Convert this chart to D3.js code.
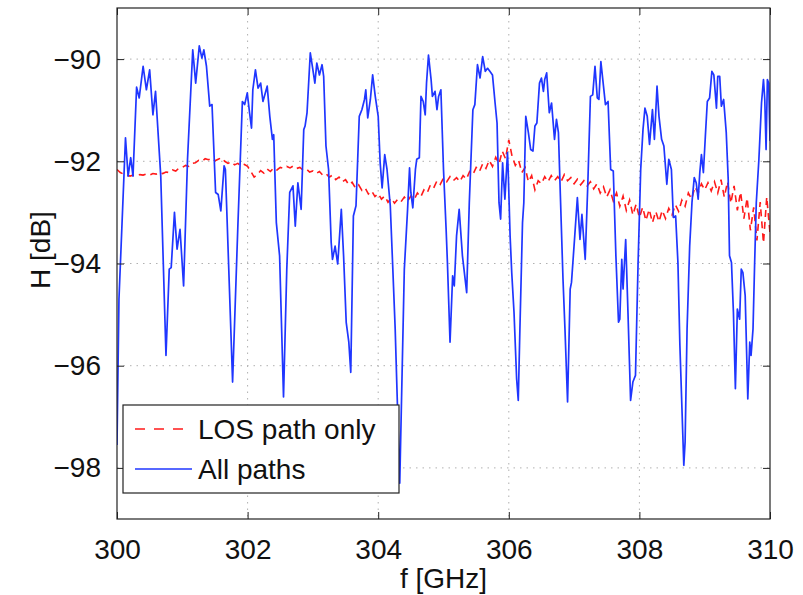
<!DOCTYPE html>
<html>
<head>
<meta charset="utf-8">
<script src="https://cdn.jsdelivr.net/npm/d3@7"></script>
<style>
  body { margin: 0; background: #fff; }
  text { font-family: "Liberation Sans", Arial, Helvetica, sans-serif; }
</style>
</head>
<body>
<div id="chart"></div>
<script>
// frequency ticks and level ticks
var xTicks = [300, 302, 304, 306, 308, 310];
var yTicks = [-98, -96, -94, -92, -90];

// "All paths" trace
var allF = [300.00, 300.03, 300.13, 300.17, 300.21, 300.245, 300.30, 300.34, 300.40, 300.45,
  300.50, 300.55, 300.59, 300.67, 300.75, 300.80, 300.83, 300.88, 300.92, 300.965,
  301.02, 301.08, 301.16, 301.205, 301.26, 301.30, 301.33, 301.37, 301.42, 301.455,
  301.51, 301.55, 301.59, 301.64, 301.66, 301.77, 301.85, 301.92, 301.955, 301.995,
  302.03, 302.06, 302.08, 302.12, 302.16, 302.20, 302.235, 302.30, 302.34, 302.38,
  302.40, 302.44, 302.49, 302.55, 302.60, 302.645, 302.695, 302.73, 302.77, 302.82,
  302.86, 302.88, 302.91, 302.96, 303.00, 303.03, 303.06, 303.10, 303.14, 303.165,
  303.20, 303.24, 303.28, 303.30, 303.34, 303.38, 303.435, 303.47, 303.51, 303.55,
  303.58, 303.62, 303.66, 303.71, 303.75, 303.79, 303.81, 303.84, 303.88, 303.915,
  303.955, 304.00, 304.03, 304.06, 304.10, 304.135, 304.185, 304.22, 304.26, 304.29,
  304.33, 304.40, 304.45, 304.48, 304.50, 304.53, 304.57, 304.59, 304.63, 304.655,
  304.69, 304.72, 304.74, 304.77, 304.81, 304.83, 304.87, 304.90, 304.925, 304.96,
  305.00, 305.04, 305.06, 305.10, 305.14, 305.165, 305.20, 305.24, 305.29, 305.355,
  305.395, 305.45, 305.48, 305.52, 305.56, 305.60, 305.64, 305.675, 305.71, 305.75,
  305.79, 305.82, 305.85, 305.875, 305.905, 305.94, 305.98, 305.99, 306.02, 306.045,
  306.08, 306.12, 306.145, 306.17, 306.21, 306.23, 306.26, 306.30, 306.335, 306.37,
  306.40, 306.43, 306.47, 306.50, 306.53, 306.55, 306.58, 306.62, 306.655, 306.70,
  306.73, 306.76, 306.79, 306.83, 306.86, 306.90, 306.94, 306.96, 307.01, 307.05,
  307.09, 307.12, 307.17, 307.21, 307.25, 307.285, 307.32, 307.355, 307.38, 307.41,
  307.45, 307.48, 307.52, 307.56, 307.60, 307.64, 307.68, 307.70, 307.73, 307.75,
  307.79, 307.825, 307.865, 307.90, 307.94, 307.98, 308.02, 308.055, 308.085, 308.12,
  308.155, 308.20, 308.23, 308.27, 308.30, 308.34, 308.375, 308.42, 308.45, 308.49,
  308.52, 308.555, 308.59, 308.62, 308.68, 308.70, 308.73, 308.77, 308.805, 308.84,
  308.87, 308.90, 308.925, 308.95, 308.98, 309.01, 309.04, 309.075, 309.11, 309.14,
  309.18, 309.20, 309.23, 309.255, 309.29, 309.33, 309.36, 309.38, 309.41, 309.44,
  309.47, 309.50, 309.535, 309.56, 309.585, 309.62, 309.66, 309.69, 309.71, 309.74,
  309.765, 309.79, 309.83, 309.87, 309.90, 309.92, 309.94, 309.96, 309.98, 310.00];
var allH = [-97.55, -94.70, -91.54, -92.29, -91.93, -92.29, -90.55, -90.76, -90.14, -90.60,
  -90.21, -91.09, -90.63, -92.29, -95.80, -94.11, -94.08, -93.00, -93.72, -93.33,
  -94.44, -91.96, -89.82, -90.47, -89.74, -89.98, -89.82, -90.14, -90.92, -90.89,
  -92.61, -92.65, -92.97, -92.09, -92.16, -96.32, -93.30, -90.83, -90.89, -90.66,
  -91.05, -91.35, -90.60, -90.21, -90.57, -90.47, -90.83, -90.53, -91.12, -91.57,
  -91.48, -93.20, -93.85, -96.61, -94.11, -92.61, -92.48, -93.27, -92.42, -92.94,
  -91.38, -91.31, -91.05, -89.88, -90.21, -90.47, -90.08, -90.31, -90.11, -90.34,
  -91.70, -92.16, -93.59, -93.92, -93.66, -94.01, -92.94, -93.85, -95.15, -95.54,
  -96.13, -93.07, -92.87, -91.12, -90.99, -90.79, -90.60, -91.15, -90.79, -90.31,
  -90.73, -91.12, -92.03, -92.52, -91.87, -92.16, -92.87, -93.98, -95.28, -96.58,
  -98.30, -94.11, -92.94, -92.13, -92.61, -92.91, -92.16, -91.96, -91.93, -90.73,
  -90.83, -91.09, -90.47, -89.92, -90.40, -90.73, -90.63, -90.99, -90.73, -90.60,
  -92.16, -93.33, -93.98, -95.54, -94.24, -94.44, -93.46, -92.94, -93.85, -94.57,
  -92.81, -90.99, -90.89, -90.11, -90.37, -89.95, -90.24, -90.18, -90.24, -90.31,
  -90.86, -91.25, -92.81, -93.13, -92.03, -92.74, -91.83, -92.16, -93.46, -94.18,
  -94.96, -96.26, -96.68, -95.28, -93.20, -92.81, -91.12, -91.44, -91.77, -91.80,
  -91.31, -91.25, -90.47, -90.37, -90.63, -90.40, -90.27, -91.05, -90.86, -91.57,
  -91.18, -91.44, -92.68, -94.31, -95.28, -96.71, -94.50, -94.37, -93.46, -92.71,
  -93.53, -93.04, -93.92, -92.45, -90.73, -90.70, -90.14, -90.76, -90.79, -90.05,
  -90.53, -90.89, -90.83, -92.16, -92.19, -93.85, -95.15, -95.09, -93.92, -94.50,
  -93.53, -94.96, -96.68, -96.32, -96.19, -93.98, -92.16, -91.38, -90.96, -91.12,
  -91.67, -90.99, -91.57, -90.53, -91.12, -91.57, -91.70, -92.45, -91.96, -92.16,
  -93.10, -93.07, -93.98, -95.60, -97.95, -97.49, -95.28, -93.66, -92.81, -92.32,
  -92.42, -92.74, -92.22, -91.87, -92.22, -91.51, -90.83, -90.76, -90.24, -90.31,
  -90.96, -90.34, -90.34, -90.92, -90.79, -91.44, -92.35, -93.85, -93.98, -94.96,
  -96.45, -94.89, -95.09, -94.11, -94.18, -94.63, -96.65, -95.54, -95.80, -95.28,
  -93.98, -92.81, -91.96, -90.86, -90.40, -90.79, -91.77, -90.40, -90.47, -91.60];

// "LOS path only" trace, sampled every 0.05 GHz from 300 to 310
var losStart = 300, losStep = 0.05;
var losH = [-92.16, -92.22, -92.25, -92.27, -92.29, -92.27, -92.28, -92.26, -92.27, -92.25,
  -92.27, -92.24, -92.25, -92.22, -92.24, -92.21, -92.22, -92.17, -92.19, -92.13,
  -92.12, -92.08, -92.10, -92.04, -92.03, -91.98, -92.00, -91.95, -91.97, -91.94,
  -91.99, -91.96, -91.93, -92.00, -92.04, -92.01, -92.07, -92.04, -92.09, -92.06,
  -92.10, -92.20, -92.31, -92.26, -92.18, -92.23, -92.15, -92.20, -92.13, -92.17,
  -92.12, -92.14, -92.10, -92.13, -92.09, -92.14, -92.12, -92.17, -92.15, -92.21,
  -92.19, -92.24, -92.20, -92.27, -92.24, -92.31, -92.27, -92.36, -92.31, -92.40,
  -92.36, -92.46, -92.41, -92.52, -92.46, -92.57, -92.52, -92.64, -92.58, -92.69,
  -92.63, -92.74, -92.68, -92.80, -92.72, -92.82, -92.74, -92.79, -92.70, -92.78,
  -92.68, -92.75, -92.62, -92.70, -92.56, -92.62, -92.46, -92.52, -92.38, -92.45,
  -92.33, -92.40, -92.30, -92.38, -92.32, -92.40, -92.28, -92.35, -92.20, -92.26,
  -92.12, -92.20, -92.05, -92.14, -91.98, -92.10, -91.92, -92.05, -91.80, -91.95,
  -91.58, -91.90, -92.08, -91.98, -92.22, -92.12, -92.40, -92.28, -92.56, -92.38,
  -92.44, -92.30, -92.40, -92.28, -92.38, -92.30, -92.40, -92.26, -92.38, -92.32,
  -92.44, -92.35, -92.46, -92.38, -92.48, -92.40, -92.54, -92.44, -92.62, -92.50,
  -92.70, -92.56, -92.78, -92.62, -92.88, -92.68, -92.96, -92.76, -93.05, -92.84,
  -93.10, -92.90, -93.16, -92.94, -93.20, -92.98, -93.18, -92.96, -93.12, -92.92,
  -93.05, -92.85, -92.98, -92.76, -92.88, -92.62, -92.74, -92.50, -92.62, -92.44,
  -92.56, -92.42, -92.58, -92.40, -92.62, -92.36, -92.70, -92.40, -92.82, -92.48,
  -92.96, -92.60, -93.12, -92.72, -93.35, -92.90, -93.55, -92.80, -93.60, -92.70,
  -93.40];

var legendLabels = ["LOS path only", "All paths"];
var losColor = "#ff1a1a", allColor = "#1f36ff";

var W = 803, H = 595;
var margin = {left: 117, top: 8, right: 33, bottom: 76};
var pw = W - margin.left - margin.right;
var ph = H - margin.top - margin.bottom;

var svg = d3.select("#chart").append("svg")
    .attr("width", W)
    .attr("height", H);

var x = d3.scaleLinear().domain([300, 310]).range([0, pw]);
var y = d3.scaleLinear().domain([-99, -89]).range([ph, 0]);

var g = svg.append("g")
    .attr("transform", "translate(" + margin.left + "," + margin.top + ")");

g.append("clipPath").attr("id", "clip")
  .append("rect").attr("width", pw).attr("height", ph);

// dotted grid
g.append("g")
    .selectAll("line")
    .data(xTicks.slice(1, -1))
    .enter().append("line")
    .attr("x1", d => x(d)).attr("x2", d => x(d))
    .attr("y1", 0).attr("y2", ph)
    .attr("stroke", "#b0b0b0").attr("stroke-width", 1)
    .attr("stroke-dasharray", "1.5,5");
g.append("g")
    .selectAll("line")
    .data(yTicks)
    .enter().append("line")
    .attr("x1", 0).attr("x2", pw)
    .attr("y1", d => y(d)).attr("y2", d => y(d))
    .attr("stroke", "#b0b0b0").attr("stroke-width", 1)
    .attr("stroke-dasharray", "1.5,5");

var losData = losH.map((h, i) => [losStart + i * losStep, h]);
var allData = allF.map((f, i) => [f, allH[i]]);

var line = d3.line()
    .x(d => x(d[0]))
    .y(d => y(d[1]));

var plot = g.append("g").attr("clip-path", "url(#clip)");

plot.append("path")
    .datum(losData)
    .attr("d", line)
    .attr("fill", "none")
    .attr("stroke", losColor)
    .attr("stroke-width", 1.6)
    .attr("stroke-dasharray", "7,5");

plot.append("path")
    .datum(allData)
    .attr("d", line)
    .attr("fill", "none")
    .attr("stroke", allColor)
    .attr("stroke-width", 1.7)
    .attr("stroke-linejoin", "round");

// axes: ticks inside, on all four sides
var tickLen = 7;
g.append("g")
    .attr("transform", "translate(0," + ph + ")")
    .call(d3.axisBottom(x).tickValues(xTicks).tickSize(-tickLen).tickPadding(20).tickFormat(d3.format("d")));
g.append("g")
    .call(d3.axisLeft(y).tickValues(yTicks).tickSize(-tickLen).tickPadding(16));
g.append("g")
    .call(d3.axisTop(x).tickValues(xTicks).tickSize(-tickLen).tickFormat(""));
g.append("g")
    .attr("transform", "translate(" + pw + ",0)")
    .call(d3.axisRight(y).tickValues(yTicks).tickSize(-tickLen).tickFormat(""));

g.selectAll(".domain").remove();
g.selectAll(".tick line").attr("stroke", "#222");
g.selectAll(".tick text")
    .attr("fill", "#111")
    .style("font-size", "28px");

g.append("rect")
    .attr("width", pw).attr("height", ph)
    .attr("fill", "none")
    .attr("stroke", "#222")
    .attr("stroke-width", 1.2);

// axis titles
svg.append("text")
    .attr("x", margin.left + pw / 2)
    .attr("y", 588)
    .attr("text-anchor", "middle")
    .style("font-size", "28px")
    .attr("fill", "#111")
    .text("f [GHz]");

svg.append("text")
    .attr("transform", "translate(50,250) rotate(-90)")
    .attr("text-anchor", "middle")
    .style("font-size", "28px")
    .attr("fill", "#111")
    .text("H [dB]");

// legend
var lg = svg.append("g").attr("transform", "translate(123,405)");
lg.append("rect")
    .attr("width", 276).attr("height", 88)
    .attr("fill", "#fff")
    .attr("stroke", "#222")
    .attr("stroke-width", 1.2);

var entries = lg.selectAll(".entry")
    .data(legendLabels)
    .enter().append("g")
    .attr("transform", (d, i) => "translate(0," + (24 + i * 40) + ")");

entries.append("line")
    .attr("x1", 12).attr("x2", 69)
    .attr("stroke", (d, i) => i === 0 ? losColor : allColor)
    .attr("stroke-width", 1.6)
    .attr("stroke-dasharray", (d, i) => i === 0 ? "10,9" : null);

entries.append("text")
    .attr("x", 75)
    .attr("dy", "0.35em")
    .style("font-size", "28px")
    .attr("fill", "#111")
    .text(d => d);
</script>
</body>
</html>
